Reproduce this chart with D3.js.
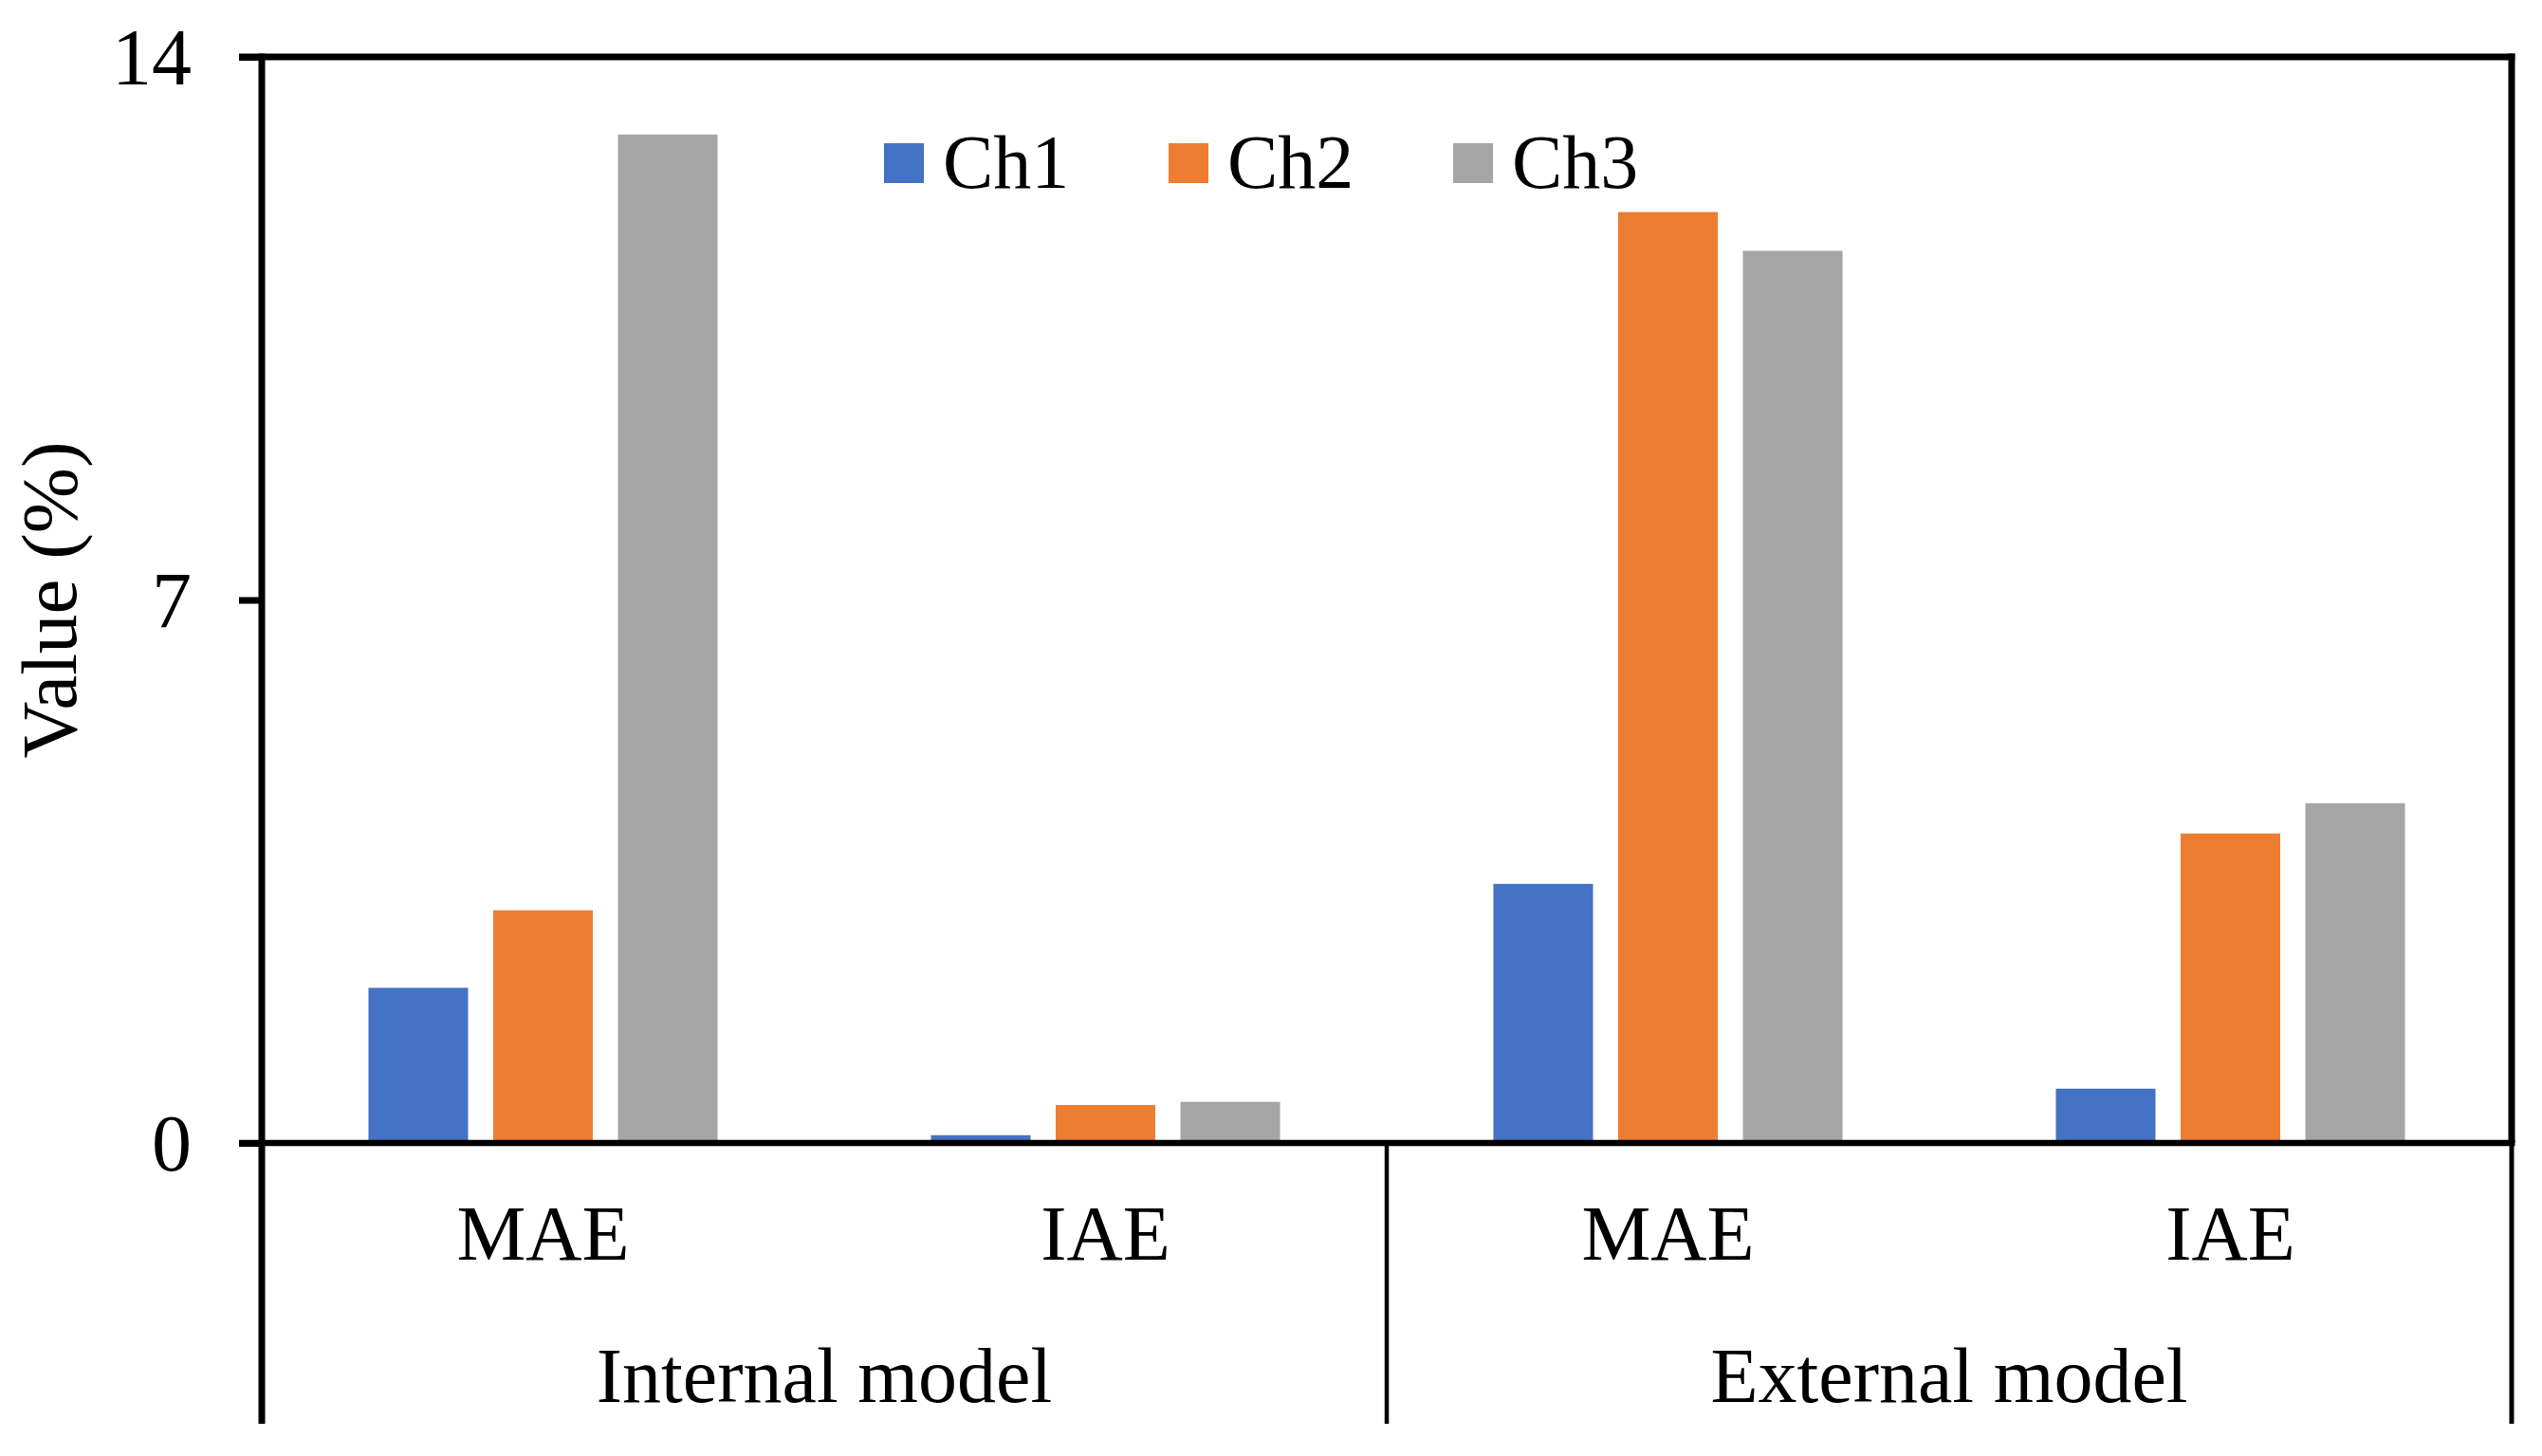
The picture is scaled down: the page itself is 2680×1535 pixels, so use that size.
<!DOCTYPE html>
<html>
<head>
<meta charset="utf-8">
<script src="https://cdn.jsdelivr.net/npm/d3@7"></script>
<style>
  html, body { margin: 0; padding: 0; background: #fff; }
  svg { display: block; }
  text { font-family: "Liberation Serif", "Times New Roman", serif; fill: #000; }
</style>
</head>
<body>
<svg id="chart" width="2680" height="1535"></svg>
<script>
// ---- data ----
const groups = ["Internal model", "External model"];
const metrics = ["MAE", "IAE", "MAE", "IAE"];
const series = ["Ch1", "Ch2", "Ch3"];
const ch1Values = [2.0, 0.1, 3.34, 0.70];
const ch2Values = [3.0, 0.49, 12.0, 3.99];
const ch3Values = [13.0, 0.53, 11.5, 4.38];
const yTicks = [0, 7, 14];
const colors = ["#4472C4", "#ED7D31", "#A5A5A5"];

const seriesValues = [ch1Values, ch2Values, ch3Values];

// ---- layout ----
const plotLeft = 276, plotRight = 2648, plotTop = 60, zeroY = 1205, bottomY = 1501;

const svg = d3.select("#chart");

const y = d3.scaleLinear().domain([0, 14]).range([zeroY, plotTop]);
const x0 = d3.scaleBand().domain(d3.range(metrics.length)).range([plotLeft, plotRight]).padding(0);
const x1 = d3.scaleBand().domain(series).range([0, x0.bandwidth()])
  .paddingInner(0.2015).paddingOuter(0.855);
const xg = d3.scaleBand().domain(groups).range([plotLeft, plotRight]).padding(0);

// ---- bars ----
const cat = svg.append("g").selectAll("g")
  .data(metrics.map((m, i) => i))
  .join("g")
  .attr("transform", i => `translate(${x0(i)},0)`);

cat.selectAll("rect")
  .data(i => series.map((s, k) => ({ s, k, v: seriesValues[k][i] })))
  .join("rect")
  .attr("x", d => x1(d.s))
  .attr("width", x1.bandwidth())
  .attr("y", d => y(d.v))
  .attr("height", d => y(0) - y(d.v))
  .attr("fill", d => colors[d.k]);

// ---- y axis ----
const yAxis = d3.axisLeft(y).tickValues(yTicks).tickSize(24).tickSizeOuter(0).tickPadding(50);
const gy = svg.append("g").attr("transform", `translate(${plotLeft},0)`).call(yAxis);
gy.select(".domain").remove();
gy.selectAll(".tick line").attr("stroke", "#000").attr("stroke-width", 7);
gy.selectAll(".tick text").attr("font-size", 84).attr("dy", "0.34em")
  .style("font-family", '"Liberation Serif", "Times New Roman", serif');

// ---- frame lines ----
const lines = svg.append("g").attr("stroke", "#000").attr("fill", "none");
lines.append("line").attr("x1", plotLeft - 24).attr("x2", plotRight + 3.5).attr("y1", plotTop).attr("y2", plotTop).attr("stroke-width", 7);
lines.append("line").attr("x1", plotLeft).attr("x2", plotLeft).attr("y1", plotTop - 3.5).attr("y2", bottomY).attr("stroke-width", 7);
lines.append("line").attr("x1", plotRight).attr("x2", plotRight).attr("y1", plotTop - 3.5).attr("y2", zeroY).attr("stroke-width", 7);
lines.append("line").attr("x1", plotRight).attr("x2", plotRight).attr("y1", zeroY).attr("y2", bottomY).attr("stroke-width", 5);
lines.append("line").attr("x1", xg("External model")).attr("x2", xg("External model"))
  .attr("y1", zeroY).attr("y2", bottomY).attr("stroke-width", 4.5);
lines.append("line").attr("x1", plotLeft - 24).attr("x2", plotRight + 3.5).attr("y1", zeroY).attr("y2", zeroY).attr("stroke-width", 6.5);

// ---- category labels ----
svg.append("g").selectAll("text")
  .data(metrics)
  .join("text")
  .attr("x", (m, i) => x0(i) + x0.bandwidth() / 2)
  .attr("y", 1328)
  .attr("text-anchor", "middle")
  .attr("font-size", 82)
  .text(m => m);

svg.append("g").selectAll("text")
  .data(groups)
  .join("text")
  .attr("x", g => xg(g) + xg.bandwidth() / 2)
  .attr("y", 1478)
  .attr("text-anchor", "middle")
  .attr("font-size", 82)
  .text(g => g);

// ---- y axis title ----
svg.append("text")
  .attr("transform", `translate(80,${(plotTop + zeroY) / 2}) rotate(-90)`)
  .attr("text-anchor", "middle")
  .attr("font-size", 83)
  .text("Value (%)");

// ---- legend ----
const legend = svg.append("g").selectAll("g")
  .data(series)
  .join("g")
  .attr("transform", (s, i) => `translate(${932 + i * 300},0)`);
legend.append("rect").attr("x", 0).attr("y", 151).attr("width", 42).attr("height", 42)
  .attr("fill", (s, i) => colors[i]);
legend.append("text").attr("x", 62).attr("y", 198).attr("font-size", 80).text(s => s);
</script>
</body>
</html>
